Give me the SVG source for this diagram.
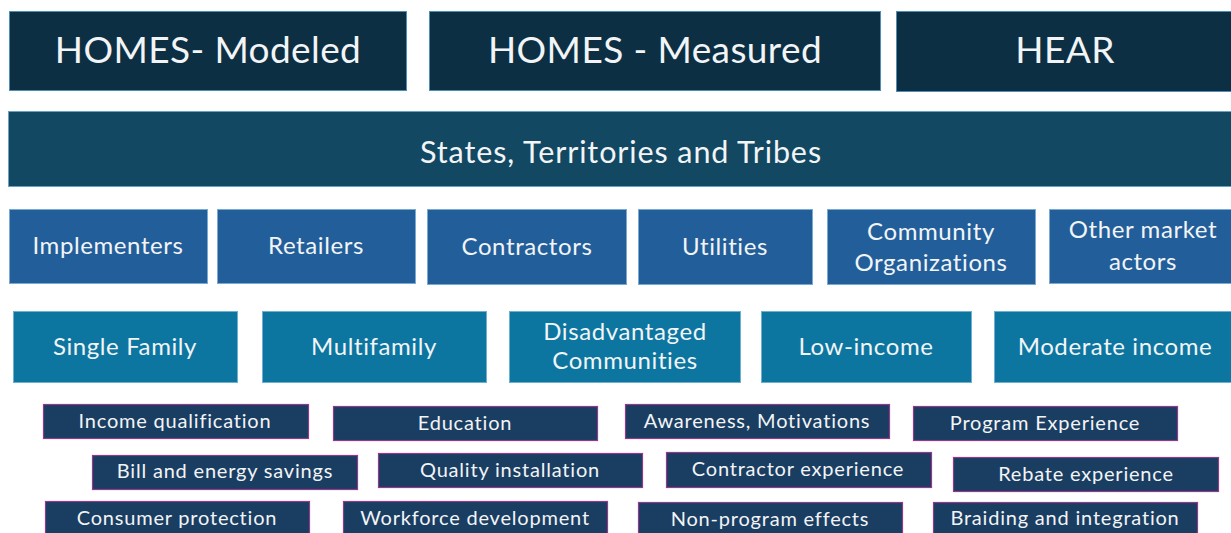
<svg xmlns="http://www.w3.org/2000/svg" width="1231" height="533" viewBox="0 0 1231 533">
  <style>
    text { font-family: Lato, "Noto Sans", "Liberation Sans", sans-serif; fill: #f2f4f6; text-anchor: middle; }
    .prog rect { fill: #0c2f44; stroke: #4f8fb5; stroke-width: 1; }
    .prog text { font-size: 37px; letter-spacing: 0.4px; }
    .gov rect { fill: #124862; stroke: #6aa3c2; stroke-width: 1; }
    .gov text { font-size: 30.5px; letter-spacing: 0.9px; }
    .actor rect { fill: #225f9a; stroke: #7aa9d2; stroke-width: 1; }
    .actor text { font-size: 24px; letter-spacing: 0.6px; }
    .seg rect { fill: #0d76a0; stroke: #6fb0cf; stroke-width: 1; }
    .seg text { font-size: 24px; letter-spacing: 0.6px; }
    .topic rect { fill: #1a3d62; stroke: #93398a; stroke-width: 1.2; }
    .topic text { font-size: 20px; letter-spacing: 0.8px; }
  </style>
  <rect width="1231" height="533" fill="#ffffff"/>

  <!-- Programs -->
  <g id="homes-modeled" class="prog"><rect x="9.5" y="11.5" width="397" height="79"/><text x="208" y="63">HOMES- Modeled</text></g>
  <g id="homes-measured" class="prog"><rect x="429.5" y="11.5" width="451" height="79"/><text x="655" y="63">HOMES - Measured</text></g>
  <g id="hear" class="prog"><rect x="896.5" y="11.5" width="340" height="80"/><text x="1065" y="63">HEAR</text></g>

  <!-- Administrators -->
  <g id="states" class="gov"><rect x="8.5" y="111.5" width="1228" height="75"/><text x="621" y="163">States, Territories and Tribes</text></g>

  <!-- Market actors -->
  <g id="implementers" class="actor"><rect x="9.5" y="209.5" width="198" height="74"/><text x="108" y="254">Implementers</text></g>
  <g id="retailers" class="actor"><rect x="217.5" y="209.5" width="198" height="74"/><text x="316" y="254">Retailers</text></g>
  <g id="contractors" class="actor"><rect x="427.5" y="209.5" width="199" height="75"/><text x="527" y="255">Contractors</text></g>
  <g id="utilities" class="actor"><rect x="638.5" y="209.5" width="174" height="75"/><text x="725" y="255">Utilities</text></g>
  <g id="community-orgs" class="actor"><rect x="827.5" y="209.5" width="208" height="75"/><text x="931" y="240">Community</text><text x="931" y="271">Organizations</text></g>
  <g id="other-actors" class="actor"><rect x="1049.5" y="209.5" width="187" height="74"/><text x="1143" y="238">Other market</text><text x="1143" y="270">actors</text></g>

  <!-- Customer segments -->
  <g id="single-family" class="seg"><rect x="13.5" y="311.5" width="224" height="71"/><text x="125" y="355">Single Family</text></g>
  <g id="multifamily" class="seg"><rect x="262.5" y="311.5" width="224" height="71"/><text x="374" y="355">Multifamily</text></g>
  <g id="disadvantaged" class="seg"><rect x="509.5" y="311.5" width="231" height="71"/><text x="625" y="340">Disadvantaged</text><text x="625" y="369">Communities</text></g>
  <g id="low-income" class="seg"><rect x="761.5" y="311.5" width="210" height="71"/><text x="866" y="355">Low-income</text></g>
  <g id="moderate-income" class="seg"><rect x="994.5" y="311.5" width="242" height="71"/><text x="1115" y="355">Moderate income</text></g>

  <!-- Evaluation topics -->
  <g id="income-qualification" class="topic"><rect x="43.5" y="404.5" width="265" height="34"/><text x="175" y="428">Income qualification</text></g>
  <g id="education" class="topic"><rect x="333.5" y="406.5" width="264" height="34"/><text x="465" y="430">Education</text></g>
  <g id="awareness" class="topic"><rect x="625.5" y="404.5" width="264" height="34"/><text x="757" y="428">Awareness, Motivations</text></g>
  <g id="program-experience" class="topic"><rect x="913.5" y="406.5" width="264" height="34"/><text x="1045" y="430">Program Experience</text></g>

  <g id="bill-savings" class="topic"><rect x="92.5" y="455.5" width="265" height="34"/><text x="225" y="478">Bill and energy savings</text></g>
  <g id="quality-installation" class="topic"><rect x="378.5" y="453.5" width="264" height="34"/><text x="510" y="477">Quality installation</text></g>
  <g id="contractor-experience" class="topic"><rect x="666.5" y="452.5" width="265" height="35"/><text x="798" y="476">Contractor experience</text></g>
  <g id="rebate-experience" class="topic"><rect x="953.5" y="457.5" width="265" height="34"/><text x="1086" y="481">Rebate experience</text></g>

  <g id="consumer-protection" class="topic"><rect x="45.5" y="501.5" width="264" height="40"/><text x="177" y="525">Consumer protection</text></g>
  <g id="workforce-development" class="topic"><rect x="343.5" y="501.5" width="264" height="40"/><text x="475" y="525">Workforce development</text></g>
  <g id="non-program-effects" class="topic"><rect x="638.5" y="502.5" width="264" height="40"/><text x="770" y="526">Non-program effects</text></g>
  <g id="braiding" class="topic"><rect x="933.5" y="502.5" width="264" height="40"/><text x="1065" y="525">Braiding and integration</text></g>
</svg>
